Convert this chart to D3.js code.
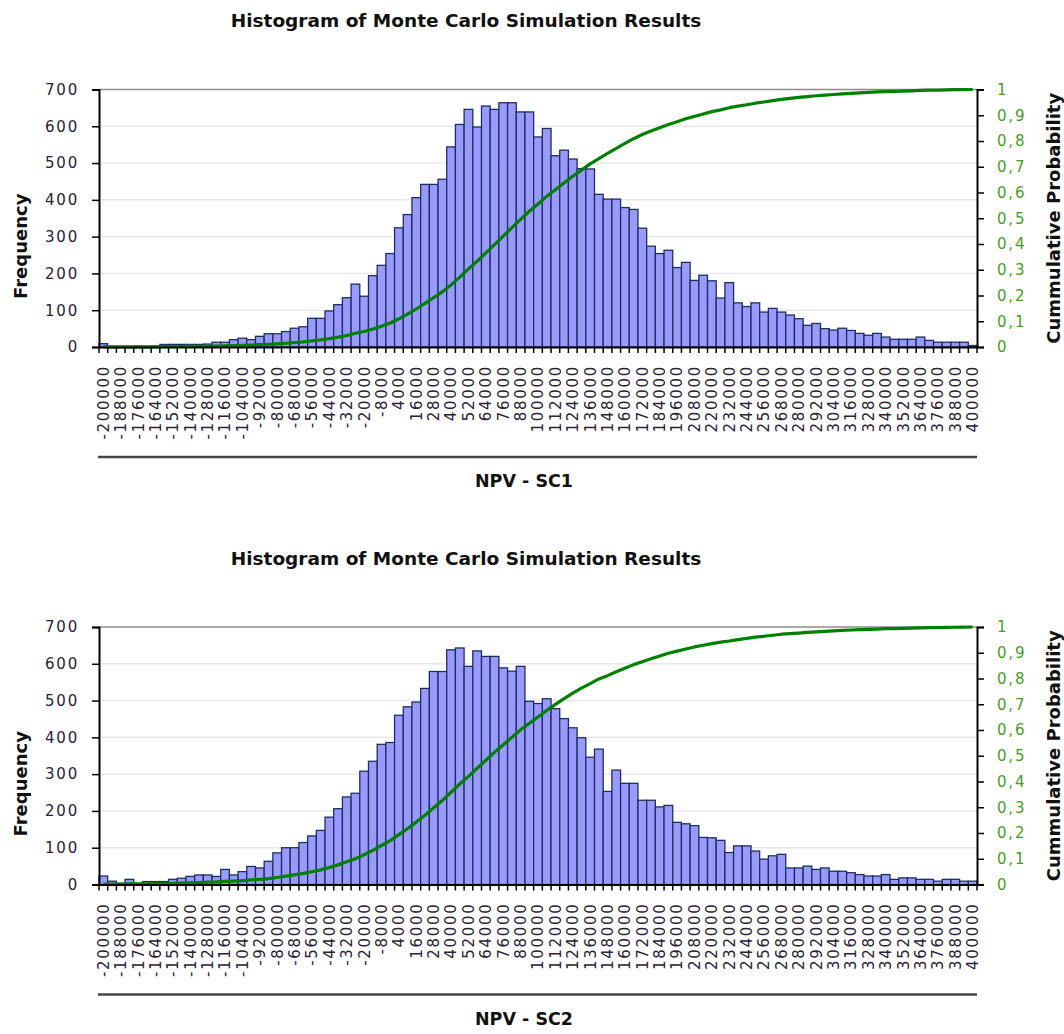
<!DOCTYPE html>
<html>
<head>
<meta charset="utf-8">
<script src="https://cdn.jsdelivr.net/npm/d3@7"></script>
<style>
  body { margin: 0; background: #fff; }
  svg { display: block; font-family: "DejaVu Sans", Verdana, sans-serif; }
</style>
</head>
<body>
<div id="chart"></div>
<script>
// NPV bins (lower bound of each 6000 wide class)
const bins = [
  -200000,-194000,-188000,-182000,-176000,-170000,-164000,-158000,-152000,-146000,
  -140000,-134000,-128000,-122000,-116000,-110000,-104000,-98000,-92000,-86000,
  -80000,-74000,-68000,-62000,-56000,-50000,-44000,-38000,-32000,-26000,
  -20000,-14000,-8000,-2000,4000,10000,16000,22000,28000,34000,
  40000,46000,52000,58000,64000,70000,76000,82000,88000,94000,
  100000,106000,112000,118000,124000,130000,136000,142000,148000,154000,
  160000,166000,172000,178000,184000,190000,196000,202000,208000,214000,
  220000,226000,232000,238000,244000,250000,256000,262000,268000,274000,
  280000,286000,292000,298000,304000,310000,316000,322000,328000,334000,
  340000,346000,352000,358000,364000,370000,376000,382000,388000,394000,
  400000
];

const freqSC1 = [
  9,1,1,1,2,1,2,7,7,7,
  7,7,8,13,13,20,24,20,29,36,
  36,42,51,55,78,78,98,115,134,171,
  138,194,222,254,324,360,406,442,442,456,
  544,605,646,598,655,646,664,664,639,639,
  571,594,520,535,511,485,484,415,402,402,
  379,374,323,274,254,263,216,230,181,195,
  180,133,175,120,110,120,95,105,95,87,
  77,59,64,50,46,51,45,37,32,37,
  27,21,21,21,27,18,13,13,13,13,4
];

const freqSC2 = [
  23,9,3,14,3,8,8,8,14,17,
  22,26,26,22,41,26,35,49,45,63,
  86,100,100,114,132,147,183,206,238,248,
  308,335,381,386,460,483,496,533,579,579,
  638,643,593,635,620,620,589,580,593,498,
  492,505,478,451,426,399,346,368,253,311,
  275,275,229,229,211,215,169,165,160,128,
  127,120,87,105,105,91,69,78,82,45,
  45,50,41,45,36,36,32,27,23,23,
  27,14,18,18,14,14,9,14,14,9,9
];

const freqTicks = [0,100,200,300,400,500,600,700];
const probTicks = [0,0.1,0.2,0.3,0.4,0.5,0.6,0.7,0.8,0.9,1];

const chartTitle = "Histogram of Monte Carlo Simulation Results";

let W = 1064, H = 1034;

let svg = d3.select("#chart").append("svg")
    .attr("width", W)
    .attr("height", H);

svg.append("rect").attr("width", W).attr("height", H).attr("fill", "#fff");

let drawHistogram = (offY, freq, xTitle) => {
    let left = 99, right = 977, top = 89.5, bottom = 347;

    let g = svg.append("g").attr("transform", "translate(0," + offY + ")");

    let x = d3.scaleBand().domain(bins).range([left, right]);
    let y = d3.scaleLinear().domain([0, 700]).range([bottom, top]);
    let yP = d3.scaleLinear().domain([0, 1]).range([bottom, top]);

    // cumulative share of the simulated runs
    let total = d3.sum(freq);
    let cum = Array.from(d3.cumsum(freq), (c) => c / total);

    g.append("text")
        .attr("x", 466)
        .attr("y", 27)
        .attr("text-anchor", "middle")
        .style("font-weight", "bold")
        .style("font-size", "18.5px")
        .attr("fill", "#111")
        .text(chartTitle);

    // grid
    g.append("g").selectAll("line")
        .data(freqTicks.filter((t) => t > 0 && t < 700))
        .enter().append("line")
            .attr("x1", left).attr("x2", right)
            .attr("y1", (d) => y(d)).attr("y2", (d) => y(d))
            .attr("stroke", "#e8e8e8")
            .attr("stroke-width", 1.5);

    g.append("line")
        .attr("x1", left).attr("x2", right)
        .attr("y1", y(700)).attr("y2", y(700))
        .attr("stroke", "#8c8c8c")
        .attr("stroke-width", 1.5);

    // bars
    g.append("g").selectAll("rect")
        .data(bins)
        .enter().append("rect")
            .attr("x", (d) => x(d))
            .attr("y", (d, i) => y(freq[i]))
            .attr("width", x.bandwidth())
            .attr("height", (d, i) => y(0) - y(freq[i]))
            .attr("fill", "#9999ff")
            .attr("stroke", "#1c305e")
            .attr("stroke-width", 1.3);

    // cumulative line
    let line = d3.line()
        .x((d, i) => x(bins[i]) + x.bandwidth() / 2)
        .y((d) => yP(d));

    g.append("path")
        .datum(cum)
        .attr("d", line)
        .attr("fill", "none")
        .attr("stroke", "#008000")
        .attr("stroke-width", 3.2)
        .attr("stroke-linejoin", "round");

    // left axis
    let yAxis = d3.axisLeft(y).tickValues(freqTicks).tickSize(7).tickPadding(13);
    let ya = g.append("g")
        .attr("transform", "translate(" + left + ",0)")
        .call(yAxis);
    ya.select(".domain").attr("stroke", "#000").attr("stroke-width", 2);
    ya.selectAll(".tick line").attr("stroke", "#000").attr("stroke-width", 1.5);
    ya.selectAll("text")
        .style("font-size", "15px")
        .style("letter-spacing", "1.8px")
        .style("font-family", "DejaVu Sans")
        .attr("fill", "#2a2236");

    // right axis
    let pAxis = d3.axisRight(yP).tickValues(probTicks).tickSize(7).tickPadding(13)
        .tickFormat((d) => String(d).replace(".", ","));
    let pa = g.append("g")
        .attr("transform", "translate(" + right + ",0)")
        .call(pAxis);
    pa.select(".domain").attr("stroke", "#000").attr("stroke-width", 2);
    pa.selectAll(".tick line").attr("stroke", "#000").attr("stroke-width", 1.5);
    pa.selectAll("text")
        .style("font-size", "15px")
        .style("letter-spacing", "1.8px")
        .style("font-family", "DejaVu Sans")
        .attr("fill", "#44a01c");

    // bottom axis: ticks on class borders, every second class labelled
    let edges = bins.map((b) => x(b)).concat([right]);
    g.append("g").selectAll("line")
        .data(edges)
        .enter().append("line")
            .attr("x1", (d) => d).attr("x2", (d) => d)
            .attr("y1", bottom).attr("y2", bottom + 6)
            .attr("stroke", "#000")
            .attr("stroke-width", 1.5);

    let xAxis = d3.axisBottom(x)
        .tickValues(bins.filter((d, i) => i % 2 === 0))
        .tickSize(0)
        .tickSizeOuter(0);
    let xa = g.append("g")
        .attr("transform", "translate(0," + bottom + ")")
        .call(xAxis);
    xa.select(".domain").attr("stroke", "#000").attr("stroke-width", 2);
    xa.selectAll("text")
        .attr("transform", "rotate(-90)")
        .attr("text-anchor", "end")
        .attr("x", -18)
        .attr("y", 0)
        .attr("dy", "0.36em")
        .style("font-size", "15px")
        .style("letter-spacing", "1.7px")
        .style("font-family", "DejaVu Sans")
        .attr("fill", "#2a2236");

    g.append("line")
        .attr("x1", 98).attr("x2", right)
        .attr("y1", 457).attr("y2", 457)
        .attr("stroke", "#444")
        .attr("stroke-width", 2.5);

    g.append("text")
        .attr("x", 524)
        .attr("y", 487)
        .attr("text-anchor", "middle")
        .style("font-weight", "bold")
        .style("font-size", "17.5px")
        .attr("fill", "#111")
        .text(xTitle);

    g.append("text")
        .attr("transform", "translate(27," + ((top + bottom) / 2 + 28) + ") rotate(-90)")
        .attr("text-anchor", "middle")
        .style("font-weight", "bold")
        .style("font-size", "18px")
        .attr("fill", "#111")
        .text("Frequency");

    g.append("text")
        .attr("transform", "translate(1060," + ((top + bottom) / 2) + ") rotate(-90)")
        .attr("text-anchor", "middle")
        .style("font-weight", "bold")
        .style("font-size", "18px")
        .attr("fill", "#111")
        .text("Cummulative Probability");
};

drawHistogram(0, freqSC1, "NPV - SC1");
drawHistogram(537.5, freqSC2, "NPV - SC2");
</script>
</body>
</html>
